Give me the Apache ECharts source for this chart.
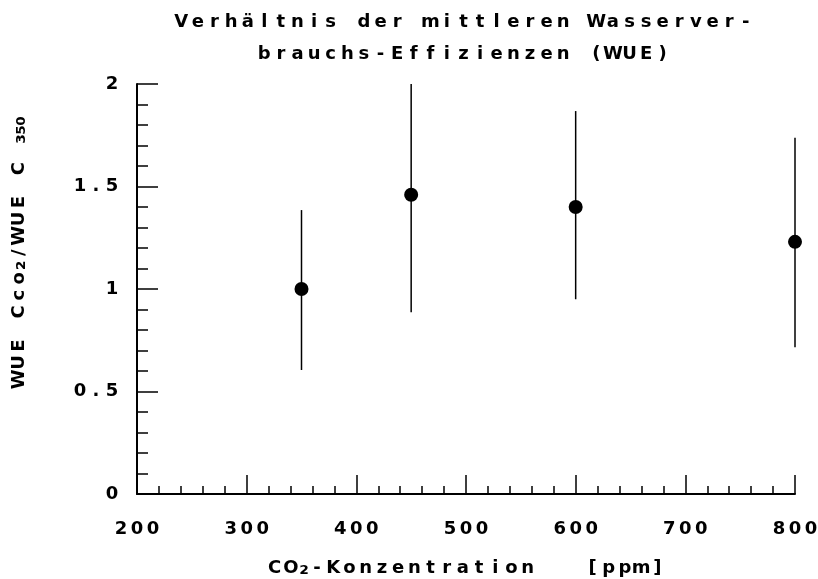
<!DOCTYPE html>
<html lang="de">
<head>
<meta charset="UTF-8">
<script src="https://cdn.jsdelivr.net/npm/echarts@6.0.0/dist/echarts.min.js"></script>
<style>html, body { margin: 0; background: #fff; }</style>
</head>
<body>
<div id="wueChart" style="width:818px;height:579px;"></div>
<script type="text/javascript">

// CO2 levels and WUE ratio (mean with range)
var co2 = [350, 450, 600, 800];
var wueMean = [1.0, 1.46, 1.40, 1.23];
var wueLow = [0.605, 0.886, 0.95, 0.716];
var wueHigh = [1.385, 2.0, 1.868, 1.738];

var titleLines = ['Verhältnis der mittleren Wasserver-', 'brauchs-Effizienzen (WUE)'];
var xName = 'CO₂-Konzentration   [ppm]';
var yName = 'WUE Cco₂/WUE C ₃₅₀';

var FONT = 'DejaVu Sans';

// plotter look: every character gets a fixed-width cell
function cells(str) {
  return Array.from(str).map(function (ch) {
    return (/[\u2080-\u2089]/.test(ch) ? '{s|' : '{c|') + ch + '}';
  }).join('');
}

function richStyle(w, size, sw, ssize, lh) {
  return {
    c: { width: w, align: 'center', fontFamily: FONT, fontWeight: 'bold', fontSize: size, lineHeight: lh, color: '#000' },
    s: { width: sw, align: 'center', fontFamily: FONT, fontWeight: 'bold', fontSize: ssize, lineHeight: lh, color: '#000' }
  };
}

var axisLineStyle = { color: '#000', width: 2 };
var tickStyle = { color: '#000', width: 1.5 };

var chart = echarts.init(document.getElementById('wueChart'));

var option = {
  animation: false,
  backgroundColor: '#fff',
  title: {
    text: titleLines.map(cells).join('\n'),
    left: 173,
    top: 6,
    padding: 0,
    textStyle: { fontSize: 18, rich: richStyle(16.6, 18, 10, 22, 32) }
  },
  grid: { left: 137, right: 23, top: 84, bottom: 85, outerBoundsMode: 'none', containLabel: false },
  xAxis: {
    type: 'value',
    min: 200,
    max: 800,
    interval: 100,
    axisLine: { show: true, lineStyle: axisLineStyle },
    axisTick: { show: true, inside: true, length: 19, lineStyle: tickStyle },
    minorTick: { show: true, splitNumber: 5, length: 8, lineStyle: tickStyle },
    splitLine: { show: false },
    axisLabel: {
      margin: 27,
      fontSize: 18,
      formatter: function (v) { return cells(String(v)); },
      rich: richStyle(16, 18, 10, 22, 16)
    },
    name: cells(xName),
    nameLocation: 'middle',
    nameGap: 64,
    nameTextStyle: { fontSize: 18, rich: richStyle(16.2, 18, 10, 22, 20) }
  },
  yAxis: {
    type: 'value',
    min: 0,
    max: 2,
    interval: 0.5,
    axisLine: { show: true, lineStyle: axisLineStyle },
    axisTick: { show: true, inside: true, length: 21, lineStyle: tickStyle },
    minorTick: { show: true, splitNumber: 5, length: 11, lineStyle: tickStyle },
    splitLine: { show: false },
    axisLabel: {
      margin: 17,
      fontSize: 18,
      formatter: function (v) { return cells(String(v)); },
      rich: richStyle(16, 18, 10, 22, 16)
    },
    name: cells(yName),
    nameLocation: 'middle',
    nameRotate: 90,
    nameGap: 108,
    nameTextStyle: { fontSize: 18, padding: [0, 0, 0, 74], rich: richStyle(16.8, 18, 9, 22, 20) }
  },
  series: [
    {
      name: 'Bereich',
      type: 'custom',
      data: co2.map(function (x, i) { return [x, wueLow[i], wueHigh[i]]; }),
      encode: { x: 0, y: [1, 2] },
      renderItem: function (params, api) {
        var top = api.coord([api.value(0), api.value(2)]);
        var bot = api.coord([api.value(0), api.value(1)]);
        return {
          type: 'line',
          shape: { x1: top[0], y1: top[1], x2: bot[0], y2: bot[1] },
          style: { stroke: '#000', lineWidth: 1.5 }
        };
      },
      z: 2
    },
    {
      name: 'WUE',
      type: 'scatter',
      data: co2.map(function (x, i) { return [x, wueMean[i]]; }),
      symbol: 'circle',
      symbolSize: 14,
      itemStyle: { color: '#000', opacity: 1 },
      z: 3
    }
  ]
};

chart.setOption(option);
</script>
</body>
</html>
